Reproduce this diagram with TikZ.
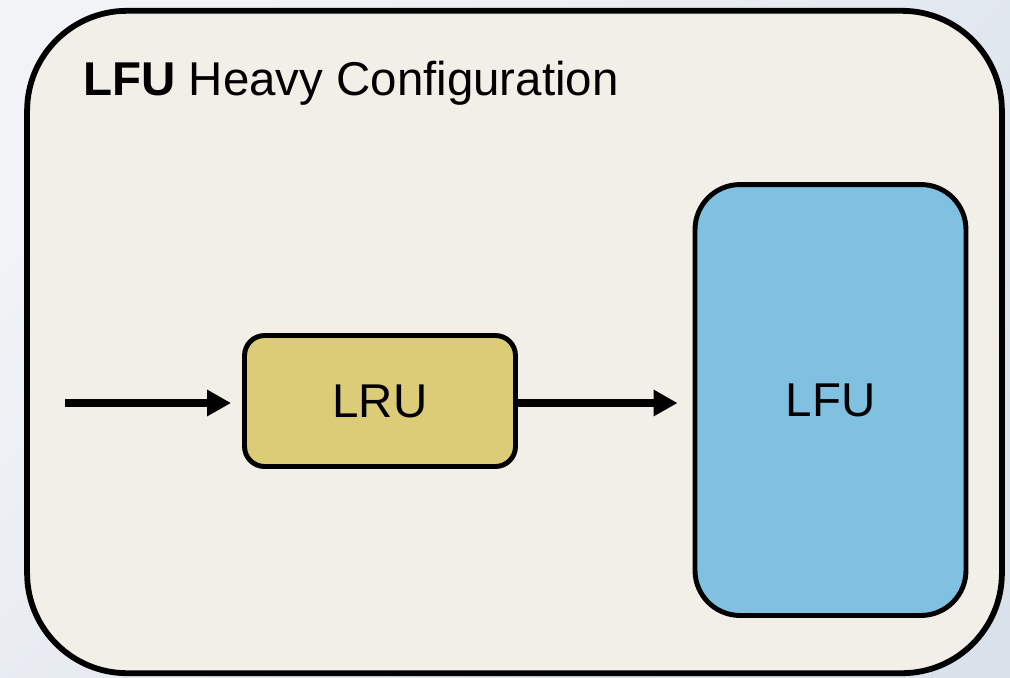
\documentclass[tikz,border=0pt]{standalone}
\usepackage{fontspec}
\setmainfont{Liberation Sans}
\usetikzlibrary{arrows.meta}
\definecolor{bgtop}{HTML}{F1F3F6}
\definecolor{bgbot}{HTML}{D9E1EA}
\definecolor{paper}{HTML}{F2EEE8}
\definecolor{lruyellow}{HTML}{DCCC78}
\definecolor{lfublue}{HTML}{80C0E0}

\begin{document}
\begin{tikzpicture}[x=0.02cm, y=-0.02cm,
  every node/.style={draw, line width=2.8pt, font=\fontsize{27}{32}\selectfont},
  cache/.style={minimum width=5.42cm, inner sep=0pt},
  flow/.style={line width=4pt, -{Triangle[length=0.48cm, width=0.5cm]}}]
  \useasboundingbox (0,0) rectangle (1010,677);
  \shade[top color=bgtop, bottom color=bgbot, shading angle=45] (0,0) rectangle (1010,677);
  \node[line width=3.3pt, fill=paper, rounded corners=2cm, minimum width=19.5cm,
    minimum height=13.25cm] (frame) at (514.5,342) {};
  \node[draw=none, inner sep=0pt, anchor=base west] (title) at (81,95) {\textbf{LFU} Heavy Configuration};
  \node[cache, fill=lruyellow, rounded corners=0.4cm, minimum height=2.62cm] (lru) at (380,401) {LRU};
  \node[cache, fill=lfublue, rounded corners=0.9cm, minimum height=8.62cm] (lfu) at (830.5,400) {LFU};
  \coordinate (in) at (65,403);
  \draw[flow, shorten >=0.22cm] (in) -- (in -| lru.west);
  \draw[flow, shorten >=0.3cm, shorten <=-0.06cm] (in -| lru.east) -- (in -| lfu.west);
\end{tikzpicture}
\end{document}
